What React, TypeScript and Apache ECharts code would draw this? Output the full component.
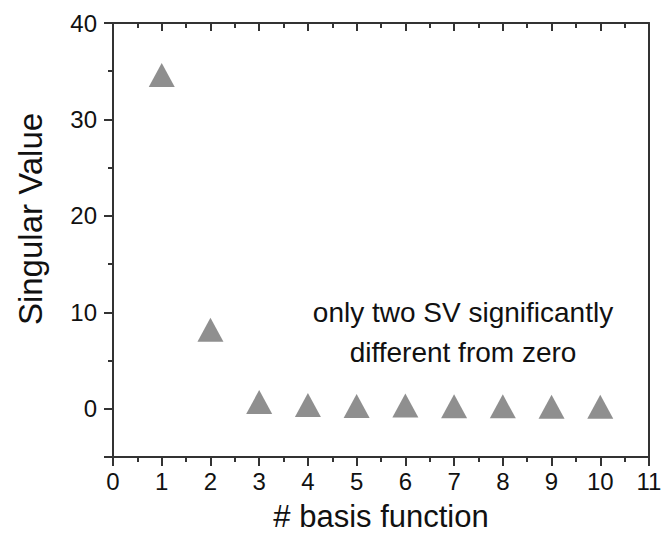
import React, { useEffect, useRef } from "react";
import * as echarts from "echarts";

const basisIndex = [1, 2, 3, 4, 5, 6, 7, 8, 9, 10];
const singularValues = [34.6, 8.2, 0.7, 0.4, 0.3, 0.35, 0.25, 0.25, 0.2, 0.2];
const xTitle = "# basis function";
const yTitle = "Singular Value";
const noteLines = ["only two SV significantly", "different from zero"];

const FONT = "'Liberation Sans', Arial, sans-serif";
const AXIS_COLOR = "#333333";
const TEXT_COLOR = "#111111";

export default function App() {
  const ref = useRef<HTMLDivElement>(null);
  useEffect(() => {
    if (!ref.current) return;
    const chart = echarts.init(ref.current, undefined, { renderer: "svg" });
    const data = basisIndex.map((x, i) => [x, singularValues[i]]);
    const ls = () => ({ color: AXIS_COLOR, width: 2 });
    chart.setOption({
      animation: false,
      backgroundColor: "#ffffff",
      grid: {
        left: 113,
        right: 13,
        top: 23,
        bottom: 76,
        containLabel: false,
        outerBoundsMode: "none",
      },
      xAxis: [
        {
          type: "value",
          position: "bottom",
          min: 0,
          max: 11,
          interval: 1,
          splitLine: { show: false },
          axisLine: { show: true, onZero: false, lineStyle: ls() },
          axisTick: { show: true, inside: false, length: 9, lineStyle: ls() },
          minorTick: { show: true, splitNumber: 2, length: 5, lineStyle: ls() },
          axisLabel: { fontFamily: FONT, fontSize: 24, color: TEXT_COLOR, margin: 12 },
          name: xTitle,
          nameLocation: "middle",
          nameGap: 44,
          nameTextStyle: { fontFamily: FONT, fontSize: 31, color: TEXT_COLOR },
        },
        {
          type: "value",
          position: "top",
          min: 0,
          max: 11,
          interval: 1,
          splitLine: { show: false },
          axisLine: { show: true, onZero: false, lineStyle: ls() },
          axisTick: { show: true, inside: true, length: 8, lineStyle: ls() },
          minorTick: { show: true, splitNumber: 2, length: 5, lineStyle: ls() },
          axisLabel: { show: false },
        },
      ],
      yAxis: [
        {
          type: "value",
          position: "left",
          min: -5,
          max: 40,
          splitNumber: 5,
          splitLine: { show: false },
          axisLine: { show: true, onZero: false, lineStyle: ls() },
          axisTick: { show: true, inside: false, length: 9, lineStyle: ls() },
          axisLabel: {
            fontFamily: FONT,
            fontSize: 24,
            color: TEXT_COLOR,
            margin: 16,
            formatter: (v: number) => (v % 10 === 0 ? String(v) : ""),
          },
          name: yTitle,
          nameLocation: "middle",
          nameGap: 66,
          nameTextStyle: {
            fontFamily: FONT,
            fontSize: 33,
            color: TEXT_COLOR,
            padding: [0, 0, 0, 42],
          },
        },
        {
          type: "value",
          position: "left",
          min: -5,
          max: 40,
          interval: 5,
          splitLine: { show: false },
          axisLine: { show: false, onZero: false },
          axisTick: { show: true, inside: false, length: 5, lineStyle: ls() },
          axisLabel: { show: false },
        },
        {
          type: "value",
          position: "right",
          min: -5,
          max: 40,
          splitLine: { show: false },
          axisLine: { show: true, onZero: false, lineStyle: ls() },
          axisTick: { show: false },
          axisLabel: { show: false },
        },
      ],
      series: [
        {
          type: "scatter",
          xAxisIndex: 0,
          yAxisIndex: 0,
          symbol: "triangle",
          symbolSize: [26, 24],
          itemStyle: { color: "#737373" },
          data,
        },
      ],
      graphic: [
        {
          type: "text",
          x: 463,
          y: 312,
          style: {
            text: noteLines[0],
            font: `28px ${FONT}`,
            fill: TEXT_COLOR,
            textAlign: "center",
            textVerticalAlign: "middle",
          },
        },
        {
          type: "text",
          x: 463,
          y: 352,
          style: {
            text: noteLines[1],
            font: `28px ${FONT}`,
            fill: TEXT_COLOR,
            textAlign: "center",
            textVerticalAlign: "middle",
          },
        },
      ],
    });
    return () => chart.dispose();
  }, []);
  return <div ref={ref} style={{ width: 662, height: 533, position: "absolute", left: 0, top: 0 }} />;
}
